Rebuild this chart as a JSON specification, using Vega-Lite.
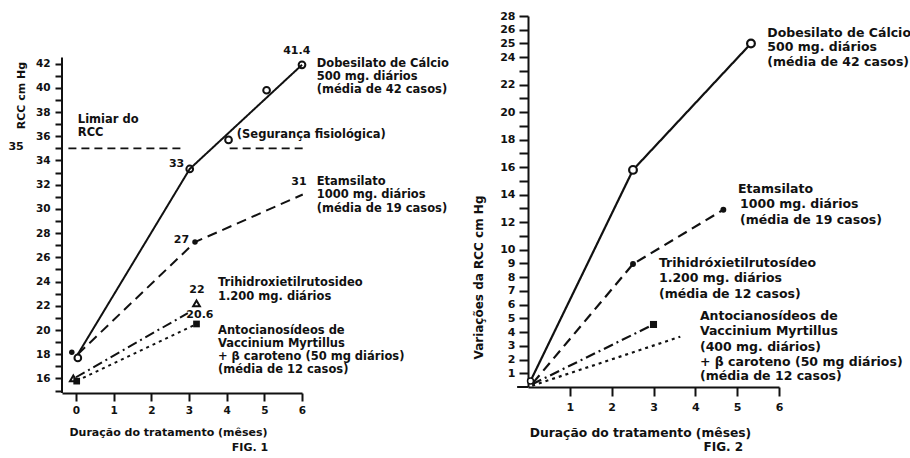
{
  "$schema": "https://vega.github.io/schema/vega-lite/v6.json",
  "autosize": {"type": "none"},
  "padding": {"left": 62, "top": 16, "right": 848, "bottom": 442},
  "background": "white",
  "spacing": 226,
  "bounds": "flush",
  "config": {
    "view": {"stroke": null},
    "axis": {
      "grid": false,
      "domainColor": "#111",
      "tickColor": "#111",
      "labelColor": "#111",
      "titleColor": "#111",
      "domainWidth": 2,
      "tickWidth": 2,
      "labelFont": "DejaVu Sans",
      "labelFontWeight": "bold",
      "labelFontSize": 10.5,
      "titleFont": "DejaVu Sans",
      "titleFontWeight": "bold",
      "labelFlush": false,
      "labelOverlap": false
    }
  },
  "datasets": {
    "p1_lines": [
      {"series": "Dobesilato", "x": 0.05, "y": 18.0},
      {"series": "Dobesilato", "x": 3.02, "y": 33.3},
      {"series": "Dobesilato", "x": 6.0, "y": 41.9},
      {"series": "Etamsilato", "x": 0.05, "y": 18.0},
      {"series": "Etamsilato", "x": 3.16, "y": 27.26},
      {"series": "Etamsilato", "x": 6.02, "y": 31.19},
      {"series": "Trihidroxi", "x": 0.0, "y": 16.1},
      {"series": "Trihidroxi", "x": 2.97, "y": 21.4},
      {"series": "Antocianosideos", "x": 0.02, "y": 15.8},
      {"series": "Antocianosideos", "x": 3.2, "y": 20.5}
    ],
    "p1_open": [
      {"x": 0.05, "y": 17.7},
      {"x": 3.02, "y": 33.3},
      {"x": 4.05, "y": 35.7},
      {"x": 5.06, "y": 39.8},
      {"x": 6.0, "y": 41.9}
    ],
    "p1_dots": [
      {"x": -0.11, "y": 18.17},
      {"x": 3.16, "y": 27.26}
    ],
    "p1_tri": [
      {"x": -0.07, "y": 16.0},
      {"x": 3.2, "y": 22.2}
    ],
    "p1_sq": [
      {"x": 0.02, "y": 15.78},
      {"x": 3.2, "y": 20.5}
    ],
    "p1_ref": [
      {"x": -0.2, "x2": 2.9, "y": 35},
      {"x": 4.08, "x2": 6.1, "y": 35}
    ],
    "p1_axisline": [
      {"x": -0.37, "y": 14.8, "y2": 42.5}
    ],
    "p1_text": [
      {"x": 6.39, "y": 41.93, "t": "Dobesilato de Cálcio"},
      {"x": 6.39, "y": 40.9, "t": "500 mg. diários"},
      {"x": 6.39, "y": 39.78, "t": "(média de 42 casos)"},
      {"x": 0.05, "y": 37.35, "t": "Limiar do"},
      {"x": 0.05, "y": 36.3, "t": "RCC"},
      {"x": 4.27, "y": 36.12, "t": "(Segurança fisiológica)"},
      {"x": 6.39, "y": 32.21, "t": "Etamsilato"},
      {"x": 6.39, "y": 31.11, "t": "1000 mg. diários"},
      {"x": 6.39, "y": 30.01, "t": "(média de 19 casos)"},
      {"x": 3.77, "y": 23.87, "t": "Trihidroxietilrutosideo"},
      {"x": 3.77, "y": 22.71, "t": "1.200 mg. diários"},
      {"x": 3.77, "y": 19.96, "t": "Antocianosídeos de"},
      {"x": 3.77, "y": 18.87, "t": "Vaccinium Myrtillus"},
      {"x": 3.77, "y": 17.8, "t": "+ β caroteno (50 mg diários)"},
      {"x": 3.77, "y": 16.66, "t": "(média de 12 casos)"}
    ],
    "p1_nums": [
      {"x": 5.86, "y": 43.08, "t": "41.4"},
      {"x": 2.67, "y": 33.67, "t": "33"},
      {"x": 5.92, "y": 32.21, "t": "31"},
      {"x": 2.8, "y": 27.4, "t": "27"},
      {"x": 3.21, "y": 23.27, "t": "22"},
      {"x": 3.29, "y": 21.2, "t": "20.6"},
      {"x": -1.59, "y": 35.08, "t": "35"},
      {"x": 4.62, "y": 10.22, "t": "FIG. 1"}
    ],
    "p2_lines": [
      {"series": "Dobesilato", "x": 0.06, "y": 0.44},
      {"series": "Dobesilato", "x": 2.51, "y": 15.8},
      {"series": "Dobesilato", "x": 5.33, "y": 25.0},
      {"series": "Etamsilato", "x": 0.12, "y": 0.3},
      {"series": "Etamsilato", "x": 2.51, "y": 8.95},
      {"series": "Etamsilato", "x": 4.67, "y": 12.9},
      {"series": "Trihidroxi", "x": 0.1, "y": 0.2},
      {"series": "Trihidroxi", "x": 3.0, "y": 4.55},
      {"series": "Antocianosideos", "x": 0.1, "y": 0.1},
      {"series": "Antocianosideos", "x": 3.64, "y": 3.66}
    ],
    "p2_open": [
      {"x": 2.51, "y": 15.8},
      {"x": 5.33, "y": 25.0}
    ],
    "p2_origin": [
      {"x": 0.06, "y": 0.44}
    ],
    "p2_dots": [
      {"x": 2.51, "y": 8.95},
      {"x": 4.67, "y": 12.9}
    ],
    "p2_sq": [
      {"x": 3.0, "y": 4.55}
    ],
    "p2_ext": [
      {"x": -0.26, "x2": 0, "y": 0}
    ],
    "p2_text": [
      {"x": 5.72, "y": 25.76, "t": "Dobesilato de Cálcio"},
      {"x": 5.72, "y": 24.72, "t": "500 mg. diários"},
      {"x": 5.72, "y": 23.63, "t": "(média de 42 casos)"},
      {"x": 5.02, "y": 14.41, "t": "Etamsilato"},
      {"x": 5.07, "y": 13.32, "t": "1000 mg. diários"},
      {"x": 5.07, "y": 12.15, "t": "(média de 19 casos)"},
      {"x": 3.13, "y": 9.0, "t": "Trihidróxietilrutosídeo"},
      {"x": 3.13, "y": 7.91, "t": "1.200 mg. diários"},
      {"x": 3.13, "y": 6.77, "t": "(média de 12 casos)"},
      {"x": 4.11, "y": 5.17, "t": "Antocianosídeos de"},
      {"x": 4.11, "y": 4.08, "t": "Vaccinium Myrtillus"},
      {"x": 4.11, "y": 2.93, "t": "(400 mg. diários)"},
      {"x": 4.11, "y": 1.84, "t": "+ β caroteno (50 mg diários)"},
      {"x": 4.11, "y": 0.82, "t": "(média de 12 casos)"}
    ],
    "p2_nums": [
      {"x": 4.67, "y": -4.34, "t": "FIG. 2"}
    ]
  },
  "hconcat": [
    {
      "width": 240,
      "height": 377,
      "encoding": {
        "x": {
          "field": "x", "type": "quantitative",
          "scale": {"domain": [-0.37, 6], "nice": false, "zero": false},
          "axis": {
            "values": [0, 1, 2, 3, 4, 5, 6],
            "title": "Duração do tratamento (mêses)",
            "titleFontSize": 11,
            "titleX": 106, "titleY": 39,
            "titleAlign": "center", "titleBaseline": "middle",
            "tickSize": 8, "labelPadding": 4
          }
        },
        "y": {
          "field": "y", "type": "quantitative",
          "scale": {"domain": [14.8, 45.93], "nice": false, "zero": false},
          "axis": {
            "values": [15,16,17,18,19,20,21,22,23,24,25,26,27,28,29,30,31,32,33,34,35,36,37,38,39,40,41,42],
            "labelExpr": "datum.value % 2 == 0 ? datum.label : ''",
            "domain": false,
            "tickSize": 7, "labelPadding": 5,
            "title": "RCC cm Hg",
            "titleFontSize": 11,
            "titleAngle": 270,
            "titleX": -41, "titleY": 79,
            "titleAlign": "center", "titleBaseline": "middle"
          }
        }
      },
      "layer": [
        {
          "data": {"name": "p1_axisline"},
          "mark": {"type": "rule", "color": "#111", "strokeWidth": 2},
          "encoding": {"y2": {"field": "y2"}}
        },
        {
          "data": {"name": "p1_ref"},
          "mark": {"type": "rule", "color": "#111", "strokeWidth": 1.6, "strokeDash": [8, 5]},
          "encoding": {"x2": {"field": "x2"}}
        },
        {
          "data": {"name": "p1_lines"},
          "mark": {"type": "line", "color": "#111", "strokeWidth": 2},
          "encoding": {
            "strokeDash": {
              "field": "series", "type": "nominal",
              "scale": {"domain": ["Dobesilato", "Etamsilato", "Trihidroxi", "Antocianosideos"],
                        "range": [[1, 0], [10, 6], [10, 4, 2, 4], [3, 4]]},
              "legend": null
            }
          }
        },
        {
          "data": {"name": "p1_open"},
          "mark": {"type": "point", "shape": "circle", "filled": false, "color": "#111", "strokeWidth": 2, "size": 45, "opacity": 1}
        },
        {
          "data": {"name": "p1_dots"},
          "mark": {"type": "point", "shape": "circle", "filled": true, "color": "#111", "size": 30, "opacity": 1}
        },
        {
          "data": {"name": "p1_tri"},
          "mark": {"type": "point", "shape": "triangle-up", "filled": false, "color": "#111", "strokeWidth": 2, "size": 45, "opacity": 1}
        },
        {
          "data": {"name": "p1_sq"},
          "mark": {"type": "point", "shape": "square", "filled": true, "color": "#111", "size": 45, "opacity": 1}
        },
        {
          "data": {"name": "p1_text"},
          "mark": {"type": "text", "align": "left", "baseline": "middle", "font": "DejaVu Sans", "fontWeight": "bold", "fontSize": 11.5, "color": "#111"},
          "encoding": {"text": {"field": "t", "type": "nominal"}}
        },
        {
          "data": {"name": "p1_nums"},
          "mark": {"type": "text", "align": "center", "baseline": "middle", "font": "DejaVu Sans", "fontWeight": "bold", "fontSize": 11, "color": "#111"},
          "encoding": {"text": {"field": "t", "type": "nominal"}}
        }
      ]
    },
    {
      "width": 251,
      "height": 371,
      "encoding": {
        "x": {
          "field": "x", "type": "quantitative",
          "scale": {"domain": [0, 6], "nice": false, "zero": false},
          "axis": {
            "values": [1, 2, 3, 4, 5, 6],
            "title": "Duração do tratamento (mêses)",
            "titleFontSize": 12.3,
            "titleX": 112, "titleY": 45,
            "titleAlign": "center", "titleBaseline": "middle",
            "tickSize": 9, "labelPadding": 5,
            "labelFontSize": 11
          }
        },
        "y": {
          "field": "y", "type": "quantitative",
          "scale": {"domain": [0, 27], "nice": false, "zero": false},
          "axis": {
            "values": [1,2,3,4,5,6,7,8,9,10,11,12,13,14,15,16,17,18,19,20,21,22,23,24,25,26,27],
            "labelExpr": "datum.value == 27 ? '28' : ((datum.value > 10 && datum.value < 24 && datum.value % 2 == 1) ? '' : datum.label)",
            "tickSize": 9, "labelPadding": 4,
            "labelFontSize": 11,
            "title": "Variações da RCC cm Hg",
            "titleFontSize": 12,
            "titleAngle": 270,
            "titleX": -50, "titleY": 261,
            "titleAlign": "center", "titleBaseline": "middle"
          }
        }
      },
      "layer": [
        {
          "data": {"name": "p2_ext"},
          "mark": {"type": "rule", "color": "#111", "strokeWidth": 2},
          "encoding": {"x2": {"field": "x2"}}
        },
        {
          "data": {"name": "p2_lines"},
          "mark": {"type": "line", "color": "#111", "strokeWidth": 2.2},
          "encoding": {
            "strokeDash": {
              "field": "series", "type": "nominal",
              "scale": {"domain": ["Dobesilato", "Etamsilato", "Trihidroxi", "Antocianosideos"],
                        "range": [[1, 0], [12, 7], [12, 4, 2, 4], [3, 4]]},
              "legend": null
            }
          }
        },
        {
          "data": {"name": "p2_open"},
          "mark": {"type": "point", "shape": "circle", "filled": false, "color": "#111", "strokeWidth": 2.2, "size": 60, "opacity": 1, "fill": "white"}
        },
        {
          "data": {"name": "p2_origin"},
          "mark": {"type": "point", "shape": "circle", "filled": false, "color": "#111", "strokeWidth": 1.5, "size": 35, "opacity": 1, "fill": "white"}
        },
        {
          "data": {"name": "p2_dots"},
          "mark": {"type": "point", "shape": "circle", "filled": true, "color": "#111", "size": 35, "opacity": 1}
        },
        {
          "data": {"name": "p2_sq"},
          "mark": {"type": "point", "shape": "square", "filled": true, "color": "#111", "size": 50, "opacity": 1}
        },
        {
          "data": {"name": "p2_text"},
          "mark": {"type": "text", "align": "left", "baseline": "middle", "font": "DejaVu Sans", "fontWeight": "bold", "fontSize": 12.5, "color": "#111"},
          "encoding": {"text": {"field": "t", "type": "nominal"}}
        },
        {
          "data": {"name": "p2_nums"},
          "mark": {"type": "text", "align": "center", "baseline": "middle", "font": "DejaVu Sans", "fontWeight": "bold", "fontSize": 12, "color": "#111"},
          "encoding": {"text": {"field": "t", "type": "nominal"}}
        }
      ]
    }
  ]
}
